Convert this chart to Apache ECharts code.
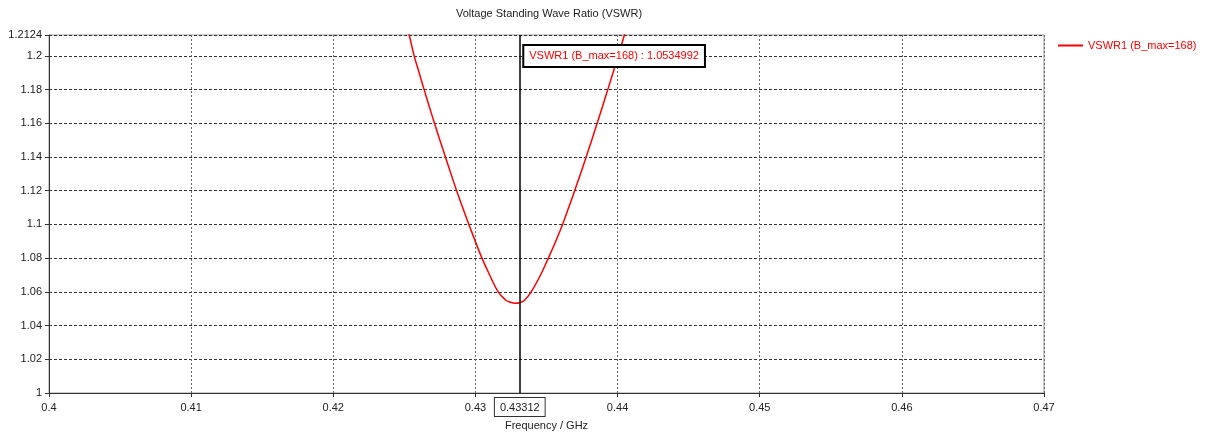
<!DOCTYPE html>
<html>
<head>
<meta charset="utf-8">
<script src="https://cdn.jsdelivr.net/npm/echarts@6/dist/echarts.min.js"></script>
<style>
  html, body { margin: 0; padding: 0; background: #fff; }
  #chart { width: 1211px; height: 434px; }
</style>
</head>
<body>
<div id="chart"></div>
<script>
// frequency (GHz)
const freq = [0.42507, 0.42534, 0.42569, 0.42604, 0.42639, 0.42675, 0.42712, 0.42750, 0.42789,
  0.42828, 0.42868, 0.42910, 0.42954, 0.42999, 0.43046, 0.43100, 0.43160, 0.43212, 0.43240,
  0.43280, 0.43312, 0.43345, 0.43392, 0.43458, 0.43513, 0.43565, 0.43613, 0.43656, 0.43698,
  0.43739, 0.43779, 0.43818, 0.43856, 0.43894, 0.43931, 0.43968, 0.44004, 0.44048, 0.44074]
const vswr = [1.2200, 1.2124, 1.2000, 1.1900, 1.1800, 1.1700, 1.1600, 1.1500, 1.1400,
  1.1300, 1.1200, 1.1100, 1.1000, 1.0900, 1.0800, 1.0700, 1.0600, 1.0552, 1.0540,
  1.0532, 1.0535, 1.0550, 1.0600, 1.0700, 1.0800, 1.0900, 1.1000, 1.1100, 1.1200,
  1.1300, 1.1400, 1.1500, 1.1600, 1.1700, 1.1800, 1.1900, 1.2000, 1.2124, 1.2200]
const seriesName = 'VSWR1 (B_max=168)'
const markerFreq = 0.43312
const markerValue = '1.0534992'

const font = '"Liberation Sans", Arial, sans-serif'
let myChart = echarts.init(document.getElementById('chart'))
let option = {
  animation: false,
  textStyle: { fontFamily: font },
  title: {
    text: 'Voltage Standing Wave Ratio (VSWR)',
    left: 456,
    top: 8,
    padding: 0,
    textStyle: { fontSize: 11, fontWeight: 'normal', color: '#222', fontFamily: font }
  },
  legend: {
    left: 1058,
    top: 40,
    padding: 0,
    icon: 'rect',
    itemWidth: 25,
    itemHeight: 2,
    itemGap: 5,
    textStyle: { color: '#ff0000', fontSize: 11, fontFamily: font },
    data: [seriesName]
  },
  grid: {
    left: 49,
    right: 167,
    top: 35,
    bottom: 41,
    outerBoundsMode: 'none',
    containLabel: false,
    show: true,
    borderColor: '#999',
    borderWidth: 1
  },
  xAxis: {
    type: 'value',
    min: 0.4,
    max: 0.47,
    interval: 0.01,
    name: 'Frequency / GHz',
    nameLocation: 'middle',
    nameGap: 27,
    nameTextStyle: { color: '#222', fontSize: 11 },
    axisLine: { show: true, onZero: false, lineStyle: { color: '#333', width: 1 } },
    axisTick: { show: true, length: 4, lineStyle: { color: '#333' } },
    axisLabel: {
      color: '#222',
      fontSize: 11,
      margin: 9,
      formatter: v => +v.toFixed(4)
    },
    splitLine: { show: true, lineStyle: { color: '#666', type: [2, 2], width: 1 } }
  },
  yAxis: {
    type: 'value',
    min: 1,
    max: 1.2124,
    interval: 0.02,
    axisLine: { show: true, onZero: false, lineStyle: { color: '#333', width: 1 } },
    axisTick: { show: true, length: 4, lineStyle: { color: '#333' } },
    axisLabel: {
      color: '#222',
      fontSize: 11,
      margin: 7,
      showMaxLabel: true,
      formatter: v => +v.toFixed(4)
    },
    splitLine: { show: true, lineStyle: { color: '#333', type: [3, 2], width: 1 } }
  },
  series: [
    {
      name: seriesName,
      type: 'line',
      smooth: 0.4,
      showSymbol: false,
      clip: true,
      lineStyle: { color: '#ff0000', width: 1.5 },
      itemStyle: { color: '#ff0000' },
      data: freq.map((f, i) => [f, vswr[i]]),
      markLine: {
        silent: true,
        symbol: 'none',
        precision: 5,
        lineStyle: { color: '#000', width: 1.5, type: 'solid' },
        label: {
          show: true,
          position: 'start',
          distance: 5,
          formatter: String(markerFreq),
          color: '#222',
          fontSize: 11,
          backgroundColor: '#fff',
          borderColor: '#333',
          borderWidth: 1,
          padding: [4, 5, 3, 5]
        },
        data: [{ xAxis: markerFreq }]
      },
      markPoint: {
        silent: true,
        symbol: 'rect',
        symbolSize: 1,
        itemStyle: { color: 'rgba(0,0,0,0)' },
        label: {
          show: true,
          position: 'right',
          distance: 4,
          formatter: seriesName + ' : ' + markerValue,
          color: '#ff0000',
          fontSize: 11,
          backgroundColor: '#fff',
          borderColor: '#000',
          borderWidth: 2,
          padding: [5, 5, 4, 5]
        },
        data: [{ coord: [markerFreq, 1.2] }]
      }
    }
  ]
}
myChart.setOption(option)
</script>
</body>
</html>
